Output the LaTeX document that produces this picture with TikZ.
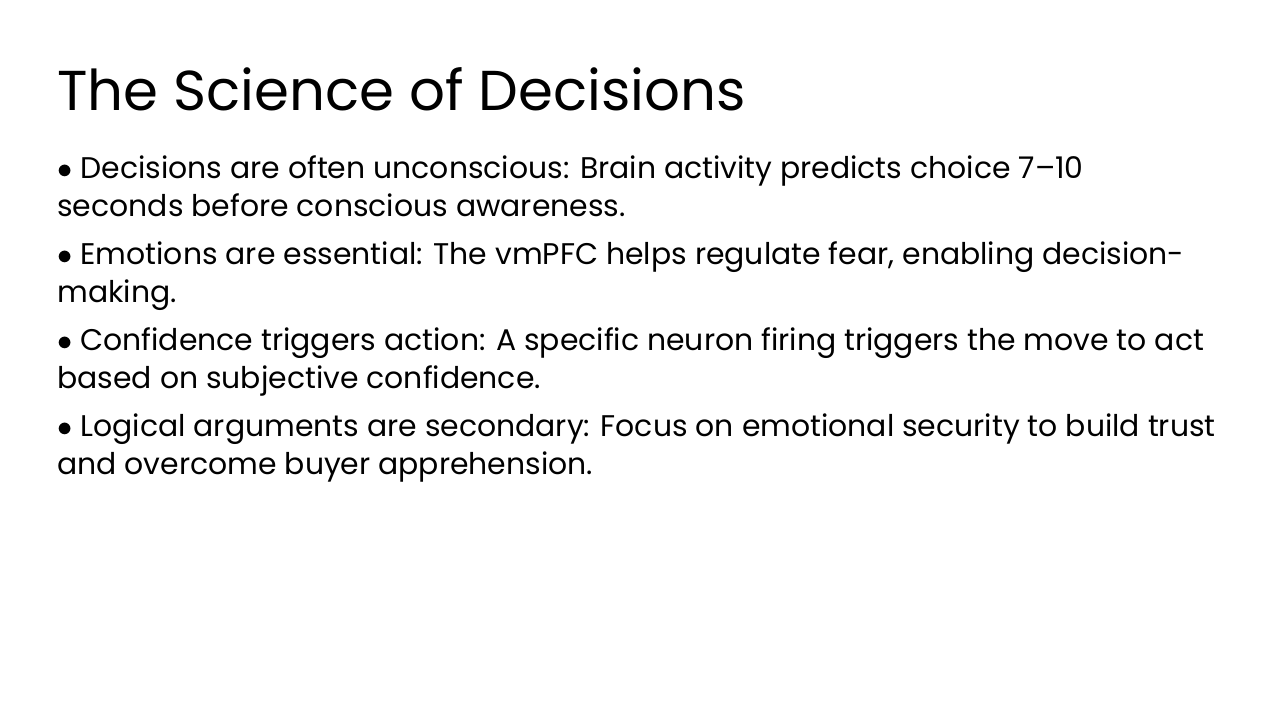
\documentclass[tikz,border=0pt]{standalone}
\usepackage{fontspec}
\setmainfont{Poppins}
\usepackage{tikz}

\begin{document}
\begin{tikzpicture}[x=0.02cm,y=-0.02cm]
        % Slide frame
        \useasboundingbox[fill=white] (0,0) rectangle (1280,720);

        % Title
        \node[anchor=base west, inner sep=0pt] (title) at (57,110)
          {\fontsize{32}{40}\selectfont The Science of Decisions};

        % Points
        \tikzset{point/.style={anchor=base west, inner sep=0pt, align=left,
          font=\fontsize{17}{21.6}\selectfont}}
        \node[point] (p1) at (57,216) {$\bullet$ Decisions are often unconscious: Brain activity predicts choice 7–10\\seconds before conscious awareness.};
        \node[point] (p2) at (57,302) {$\bullet$ Emotions are essential: The vmPFC helps regulate fear, enabling decision-\\making.};
        \node[point] (p3) at (57,388) {$\bullet$ Confidence triggers action: A specific neuron firing triggers the move to act\\based on subjective confidence.};
        \node[point] (p4) at (57,474) {$\bullet$ Logical arguments are secondary: Focus on emotional security to build trust\\and overcome buyer apprehension.};
    \end{tikzpicture}
\end{document}
